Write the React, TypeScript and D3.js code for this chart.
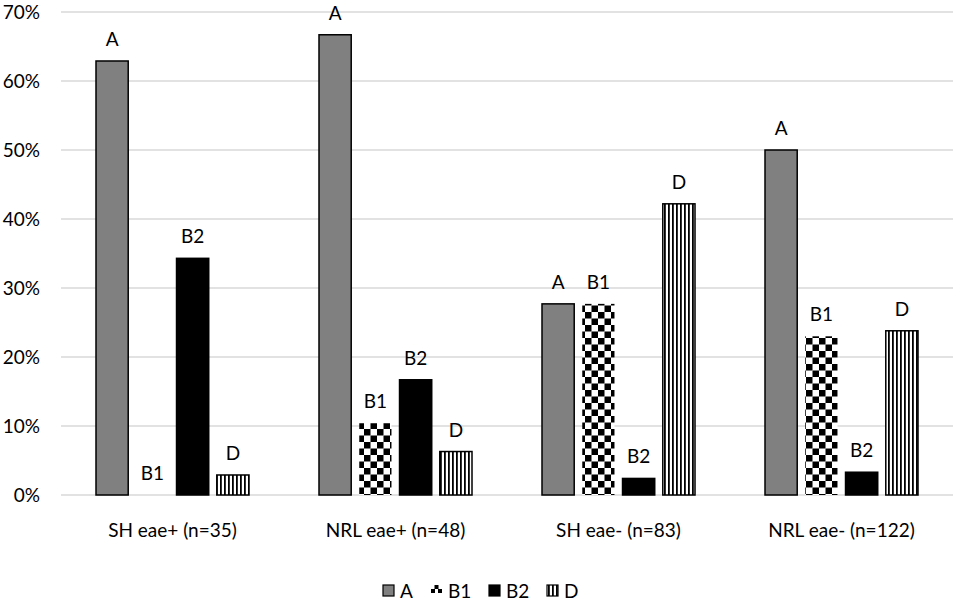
import { useEffect, useRef } from 'react'
import * as d3 from 'd3'

const categories = ['SH eae+ (n=35)', 'NRL eae+ (n=48)', 'SH eae- (n=83)', 'NRL eae- (n=122)']
const seriesNames = ['A', 'B1', 'B2', 'D']
const valuesA = [62.9, 66.7, 27.7, 50.0]
const valuesB1 = [0, 10.4, 27.7, 23.0]
const valuesB2 = [34.3, 16.7, 2.4, 3.3]
const valuesD = [2.9, 6.3, 42.2, 23.8]
const yTicks = [0, 10, 20, 30, 40, 50, 60, 70]

const W = 957
const H = 603
const FONT = 'Lato, "Open Sans", sans-serif'
const FS = 19

export default function App() {
  const svgRef = useRef<SVGSVGElement>(null)

  useEffect(() => {
    if (!svgRef.current) return
    const svg = d3.select(svgRef.current)
    svg.selectAll('*').remove()

    const seriesValues = [valuesA, valuesB1, valuesB2, valuesD]
    const fills = ['#808080', 'url(#checker)', '#000000', 'url(#stripes)']
    const strokes = ['#000', 'none', '#000', '#000']

    // patterns
    const defs = svg.append('defs')
    const checker = defs.append('pattern')
      .attr('id', 'checker')
      .attr('patternUnits', 'userSpaceOnUse')
      .attr('width', 13)
      .attr('height', 13)
    checker.append('rect').attr('width', 13).attr('height', 13).attr('fill', '#fff')
    checker.append('rect').attr('width', 6.5).attr('height', 6.5).attr('fill', '#000')
    checker.append('rect').attr('x', 6.5).attr('y', 6.5).attr('width', 6.5).attr('height', 6.5).attr('fill', '#000')

    const stripes = defs.append('pattern')
      .attr('id', 'stripes')
      .attr('patternUnits', 'userSpaceOnUse')
      .attr('width', 4)
      .attr('height', 4)
    stripes.append('rect').attr('width', 4).attr('height', 4).attr('fill', '#fff')
    stripes.append('rect').attr('width', 1.8).attr('height', 4).attr('fill', '#000')

    const x0 = d3.scaleBand<string>()
      .domain(categories)
      .range([61, 953])
      .padding(0)

    const x1 = d3.scaleBand<string>()
      .domain(seriesNames)
      .range([35, x0.bandwidth() - 35])
      .paddingInner(0.2)

    const y = d3.scaleLinear()
      .domain([0, 70])
      .range([495, 12])

    // grid lines
    svg.append('g')
      .selectAll('line')
      .data(yTicks)
      .join('line')
      .attr('x1', 61)
      .attr('x2', 953)
      .attr('y1', d => y(d))
      .attr('y2', d => y(d))
      .attr('stroke', '#d9d9d9')
      .attr('stroke-width', 1.5)

    // y tick labels
    svg.append('g')
      .selectAll('text')
      .data(yTicks)
      .join('text')
      .attr('x', 40)
      .attr('y', d => y(d))
      .attr('dy', '0.35em')
      .attr('text-anchor', 'end')
      .attr('font-family', FONT)
      .attr('font-size', FS)
      .attr('fill', '#000')
      .text(d => `${d}%`)

    // bars
    seriesNames.forEach((s, si) => {
      const g = svg.append('g')
      const vals = seriesValues[si]
      g.selectAll('rect')
        .data(vals)
        .join('rect')
        .attr('x', (_, i) => (x0(categories[i]) || 0) + (x1(s) || 0))
        .attr('y', d => y(d))
        .attr('width', x1.bandwidth())
        .attr('height', d => y(0) - y(d))
        .attr('fill', fills[si])
        .attr('stroke', d => (d > 0 ? strokes[si] : 'none'))
        .attr('stroke-width', 1.5)

      g.selectAll('text')
        .data(vals)
        .join('text')
        .attr('x', (_, i) => (x0(categories[i]) || 0) + (x1(s) || 0) + x1.bandwidth() / 2)
        .attr('y', d => y(d) - 15)
        .attr('text-anchor', 'middle')
        .attr('font-family', FONT)
        .attr('font-size', FS)
        .attr('fill', '#000')
        .text(s)
    })

    // category labels
    svg.append('g')
      .selectAll('text')
      .data(categories)
      .join('text')
      .attr('x', d => (x0(d) || 0) + x0.bandwidth() / 2)
      .attr('y', 537)
      .attr('text-anchor', 'middle')
      .attr('font-family', FONT)
      .attr('font-size', FS)
      .attr('fill', '#000')
      .text(d => d)

    // legend
    const legendX = [383, 431, 489, 547]
    const legend = svg.append('g')
    seriesNames.forEach((s, si) => {
      const lx = legendX[si]
      if (si === 1) {
        const lg = legend.append('g')
        lg.append('rect').attr('x', lx + 3.5).attr('y', 585).attr('width', 4).attr('height', 4).attr('fill', '#000')
        lg.append('rect').attr('x', lx).attr('y', 589).attr('width', 4).attr('height', 4).attr('fill', '#000')
        lg.append('rect').attr('x', lx + 7).attr('y', 589).attr('width', 4).attr('height', 4).attr('fill', '#000')
      } else {
        legend.append('rect')
          .attr('x', lx)
          .attr('y', 585)
          .attr('width', 11)
          .attr('height', 11)
          .attr('fill', fills[si])
          .attr('stroke', '#000')
          .attr('stroke-width', 1.2)
      }
      legend.append('text')
        .attr('x', lx + 17)
        .attr('y', 591)
        .attr('dy', '0.35em')
        .attr('font-family', FONT)
        .attr('font-size', FS)
        .attr('fill', '#000')
        .text(s)
    })
  }, [])

  return (
    <svg
      ref={svgRef}
      width={W}
      height={H}
      style={{ position: 'absolute', left: 0, top: 0, background: '#fff' }}
    />
  )
}
